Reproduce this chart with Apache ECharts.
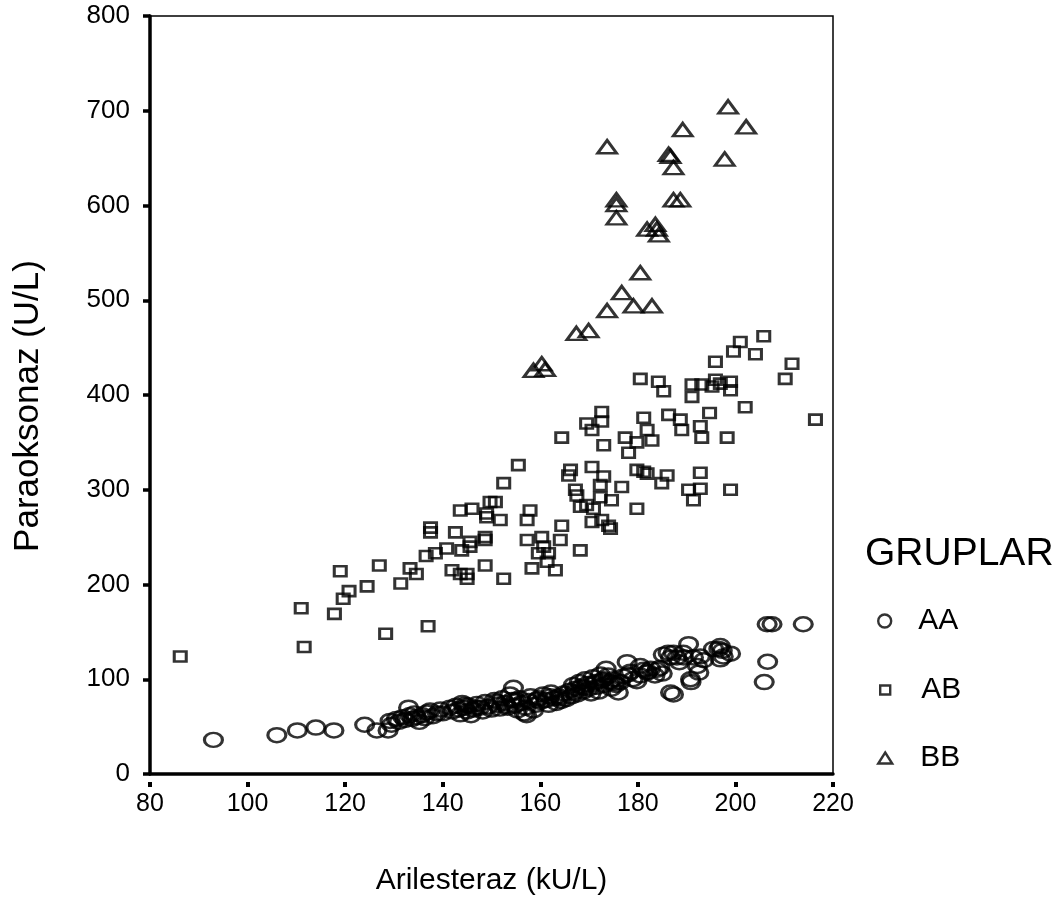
<!DOCTYPE html>
<html>
<head>
<meta charset="utf-8">
<script src="https://cdn.jsdelivr.net/npm/echarts@6/dist/echarts.min.js"></script>
<style>
html,body{margin:0;padding:0;background:#fff;}
#chart{width:1063px;height:910px;}
</style>
</head>
<body>
<div id="chart"></div>
<script>
// Group names
const groupNames = ['AA', 'AB', 'BB'];
// Axis ticks
const xTicks = [80, 100, 120, 140, 160, 180, 200, 220];
const yTicks = [0, 100, 200, 300, 400, 500, 600, 700, 800];

// AA group: [Arilesteraz, Paraoksonaz]
const aaPoints = [
  [93, 36], [106, 41], [110.2, 46], [114, 49], [117.7, 46], [124, 52], [126.5, 46], [128.8, 46],
  [129.2, 56], [129.5, 52], [130.5, 58], [131, 55], [131.8, 60], [132.3, 57], [133, 70], [133.2, 62],
  [133.8, 58], [134.2, 64], [134.6, 60], [135.2, 55], [135.8, 62], [136.3, 59], [136.8, 65], [137.4, 67],
  [138, 61], [138.9, 64], [139.5, 68], [140, 64],
  [141.5, 70], [142, 66], [142.7, 72], [143.2, 68], [143.6, 63], [144, 75], [144.4, 70], [145, 66],
  [145.3, 72], [145.8, 62], [146.3, 68], [147, 74], [147.6, 70], [148.2, 66], [148.7, 76], [149.3, 71], [150, 68],
  [150.6, 78], [151.2, 73], [151.7, 69], [152.2, 80], [152.8, 75], [153.3, 70], [153.8, 84], [154.2, 78],
  [154.5, 91], [154.8, 72], [155.3, 67], [155.7, 80], [156.2, 75], [156.7, 64], [157.2, 62], [157.6, 77],
  [158, 82], [158.6, 67], [159, 73], [159.6, 80], [160, 76],
  [160.6, 84], [161.2, 78], [161.7, 73], [162.2, 86], [162.8, 80], [163.3, 75], [163.8, 82], [164.3, 77],
  [164.8, 85], [165.3, 79],
  [166, 88], [166.4, 82], [166.8, 94], [167.2, 90], [167.6, 84], [168, 97], [168.4, 92], [168.8, 87],
  [169.2, 100], [169.6, 95], [170, 90], [170.4, 85], [170.8, 102], [171.2, 97], [171.6, 92], [172, 87],
  [172.3, 105], [172.7, 99], [173.1, 94], [173.5, 111], [173.9, 104], [174.3, 97], [174.6, 90], [175, 100],
  [175.5, 94], [176, 86], [176.4, 97],
  [177, 103], [177.8, 118], [178.5, 108], [179, 100], [179.8, 98], [180.5, 104], [180.5, 114], [181.2, 110],
  [181.9, 107], [182.6, 111], [183.5, 104], [184, 110], [185, 106], [185.2, 126], [186.2, 128], [186.7, 123],
  [186.7, 86], [187.3, 84], [187.3, 128], [188, 123], [188.5, 118], [189.3, 128], [189.4, 123], [190.4, 137],
  [190.8, 100], [190.9, 97], [191.4, 123], [192.2, 114], [192.5, 107], [192.8, 124], [193.5, 120], [195.5, 132],
  [196.6, 132], [196.9, 135], [197.3, 130], [197.5, 124], [199, 127], [196.9, 121],
  [205.9, 97], [206.6, 118.5], [206.5, 158], [207.5, 158], [213.9, 158],
  [144.6, 73], [146.8, 70], [151, 76], [153, 72], [155, 78], [157, 70], [159.3, 78], [162, 82], [164, 80],
  [167, 86], [169, 91], [171, 95], [173, 100], [175.2, 96], [178, 105], [182, 108], [184.5, 112]
];

// AB group
const abPoints = [
  [86.2, 124], [111, 175], [111.6, 134], [117.8, 169], [119, 214], [119.6, 185], [120.8, 193], [124.5, 198],
  [127, 220], [128.3, 148], [131.4, 201], [133.3, 217], [134.6, 211], [137, 156], [136.6, 230], [138.5, 233],
  [140.8, 238], [143.9, 236], [137.5, 260], [137.5, 255], [142.6, 255], [145.6, 245], [145.6, 240], [148.7, 247],
  [148.7, 250], [143.6, 278], [146, 280], [149, 275], [149, 271], [149.7, 287], [141.9, 215], [143.6, 211],
  [145, 211], [145, 206], [148.7, 220], [152.5, 206], [158.3, 217], [161.4, 224], [163.1, 215],
  [150.8, 287], [151.8, 268], [152.5, 307], [155.5, 326], [157.9, 278], [157.3, 268], [157.3, 247], [160.3, 250],
  [160.7, 240], [164.1, 247], [159.6, 233], [161.7, 233], [164.4, 262], [168.2, 236], [166.2, 321], [165.8, 315],
  [170.6, 324], [173, 314], [179.8, 321], [181.2, 319], [181.9, 317], [186, 315], [184.9, 307], [192.8, 318],
  [192.8, 301], [190.4, 300], [191.4, 289], [199, 300], [176.7, 303], [174.6, 289], [172.3, 305], [172.3, 292],
  [179.8, 280], [167.2, 300], [167.5, 294], [168.2, 282], [169.5, 284], [170.9, 280], [170.6, 266], [172.6, 268],
  [174, 262], [174.4, 259], [164.4, 355], [173, 347], [177.4, 355], [179.8, 350], [178.1, 339], [172.6, 382],
  [172.6, 372], [169.5, 370], [170.6, 363], [181.2, 376], [181.9, 363], [182.9, 352], [186.3, 379], [188.7, 374],
  [189, 363], [192.8, 367], [193.1, 355], [198.3, 355], [202, 387], [194.7, 381], [216.4, 374], [191.1, 411],
  [191.1, 398], [193.1, 411], [195.9, 416], [195.2, 409], [196.9, 412], [199, 414], [199, 405], [180.5, 417],
  [184.2, 414], [185.3, 404], [205.8, 462], [201, 456], [199.6, 446], [204.1, 443], [195.9, 435], [211.6, 433],
  [210.2, 417]
];

// BB group
const bbPoints = [
  [198.5, 704], [202.2, 683], [189.2, 680], [173.7, 662], [186.3, 654], [186.7, 652], [187.3, 640], [197.8, 649],
  [175.6, 606], [175.6, 601], [175.6, 587], [187.3, 606], [188.7, 606], [181.9, 575], [183.6, 580], [183.9, 575],
  [184.3, 569], [180.5, 529], [176.7, 508], [179.1, 494], [182.9, 494], [173.7, 489], [167.4, 465], [169.9, 468],
  [158.6, 426], [160.3, 433], [161, 427]
];

const FONT = '"Liberation Sans", Arial, sans-serif';
const chart = echarts.init(document.getElementById('chart'));
const mk = { color: 'rgba(0,0,0,0)', borderColor: '#000', borderWidth: 2.8 };
const legIcon = { color: 'rgba(0,0,0,0)', borderColor: '#000', borderWidth: 2.4 };

chart.setOption({
  animation: false,
  backgroundColor: '#fff',
  title: {
    text: 'GRUPLAR', left: 860, top: 530,
    textStyle: { fontFamily: FONT, fontSize: 39, fontWeight: 'normal', color: '#000' }
  },
  legend: [
    { data: [groupNames[0]], left: 872, top: 601, itemWidth: 15, itemHeight: 13, icon: 'circle',
      itemStyle: legIcon,
      textStyle: { fontFamily: FONT, fontSize: 30, color: '#000', padding: [4, 0, 0, 21] } },
    { data: [groupNames[1]], left: 874, top: 670, itemWidth: 10, itemHeight: 9, icon: 'rect',
      itemStyle: legIcon,
      textStyle: { fontFamily: FONT, fontSize: 30, color: '#000', padding: [4, 0, 0, 26] } },
    { data: [groupNames[2]], left: 872, top: 738, itemWidth: 14, itemHeight: 11, icon: 'triangle',
      itemStyle: legIcon,
      textStyle: { fontFamily: FONT, fontSize: 30, color: '#000', padding: [4, 0, 0, 23] } }
  ],
  grid: { left: 150, top: 16, width: 683, height: 758, show: true, borderColor: '#000', borderWidth: 1.5, backgroundColor: 'rgba(0,0,0,0)' },
  xAxis: [
    {
      type: 'value', min: xTicks[0], max: xTicks[xTicks.length - 1], interval: 20,
      name: 'Arilesteraz (kU/L)', nameLocation: 'middle', nameGap: 92,
      nameTextStyle: { fontFamily: FONT, fontSize: 30, color: '#000' },
      axisLine: { show: true, lineStyle: { color: '#000', width: 3.5 } },
      axisTick: { show: false },
      axisLabel: { fontFamily: FONT, fontSize: 25, color: '#000', margin: 18 },
      splitLine: { show: false }
    },
    {
      type: 'value', min: xTicks[0], max: xTicks[xTicks.length - 1], interval: 20, position: 'bottom', offset: 8,
      axisLine: { show: false },
      axisTick: { show: true, length: 5, lineStyle: { color: '#000', width: 4 } },
      axisLabel: { show: false },
      splitLine: { show: false }
    }
  ],
  yAxis: {
    type: 'value', min: yTicks[0], max: yTicks[yTicks.length - 1], interval: 100,
    name: 'Paraoksonaz (U/L)', nameLocation: 'middle', nameGap: 104, nameRotate: 90,
    nameTextStyle: { fontFamily: FONT, fontSize: 35, color: '#000', padding: [0, 22, 0, 0] },
    axisLine: { show: true, lineStyle: { color: '#000', width: 3.5 } },
    axisTick: { show: true, length: 7, lineStyle: { color: '#000', width: 3.5 } },
    axisLabel: { fontFamily: FONT, fontSize: 26, color: '#000', margin: 20 },
    splitLine: { show: false }
  },
  series: [
    { name: groupNames[0], type: 'scatter', symbol: 'circle', symbolSize: [18, 14], data: aaPoints, itemStyle: mk },
    { name: groupNames[1], type: 'scatter', symbol: 'rect', symbolSize: [12, 10], data: abPoints, itemStyle: mk },
    { name: groupNames[2], type: 'scatter', symbol: 'triangle', symbolSize: [19, 13], data: bbPoints, itemStyle: mk }
  ]
});
</script>
</body>
</html>
